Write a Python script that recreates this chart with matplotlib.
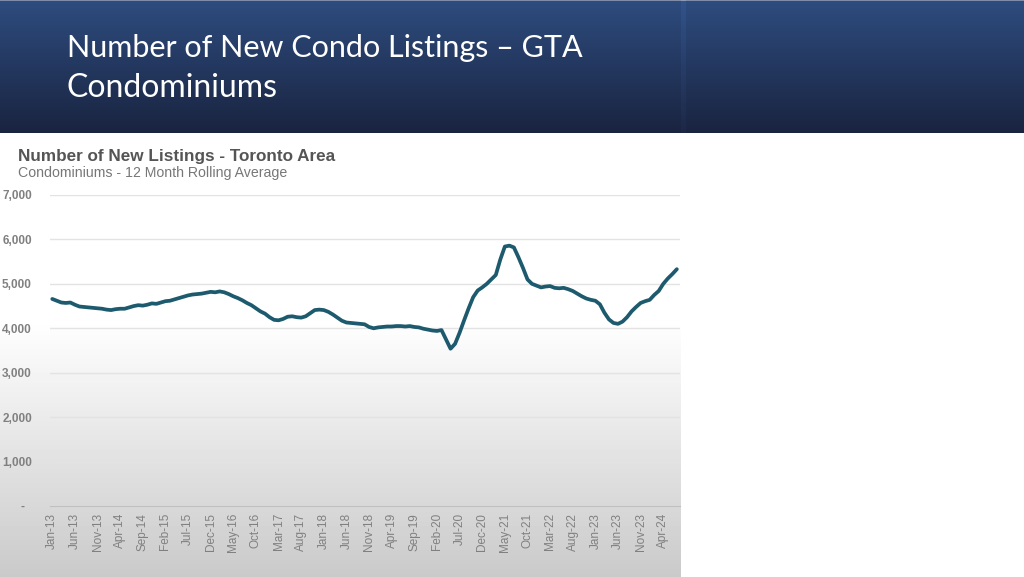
import matplotlib
matplotlib.use("Agg")
import matplotlib.pyplot as plt
import numpy as np
import pandas as pd

# 12 month rolling average of new condo listings, Jan-13 .. Jul-24
months = pd.date_range("2013-01-01", "2024-07-01", freq="MS")
new_listings = [
    4660, 4620, 4580, 4570, 4580, 4530, 4490, 4480, 4470, 4460, 4450, 4440,  # 2013
    4420, 4410, 4430, 4440, 4440, 4470, 4500, 4520, 4510, 4530, 4560, 4550,  # 2014
    4580, 4610, 4620, 4650, 4680, 4710, 4740, 4760, 4770, 4780, 4800, 4820,  # 2015
    4810, 4830, 4810, 4770, 4720, 4680, 4630, 4570, 4520, 4450, 4380, 4330,  # 2016
    4250, 4190, 4180, 4210, 4260, 4270, 4250, 4240, 4270, 4340, 4410, 4420,  # 2017
    4410, 4370, 4310, 4240, 4170, 4130, 4120, 4110, 4100, 4090, 4030, 4000,  # 2018
    4020, 4030, 4040, 4040, 4050, 4050, 4040, 4050, 4030, 4020, 3990, 3970,  # 2019
    3950, 3940, 3960, 3750, 3540, 3650, 3900, 4180, 4450, 4700, 4850, 4920,  # 2020
    5000, 5100, 5200, 5550, 5840, 5860, 5820, 5600, 5360, 5100, 5000, 4960,  # 2021
    4920, 4940, 4950, 4910, 4900, 4910, 4880, 4840, 4780, 4720, 4670, 4640,  # 2022
    4620, 4540, 4350, 4200, 4120, 4100, 4150, 4250, 4380, 4480, 4570, 4610,  # 2023
    4640, 4750, 4840, 5000, 5120, 5220, 5330,                                # 2024
]
tick_step = 5
tick_labels = [d.strftime("%b-%y") for d in months[::tick_step]]
y_ticks = [0, 1000, 2000, 3000, 4000, 5000, 6000, 7000]

W, H = 1024, 577
fig = plt.figure(figsize=(W / 100, H / 100), dpi=100)
fig.patch.set_facecolor("white")

# slide header band (dark blue gradient)
hdr = fig.add_axes([0, 1 - 133 / H, 1, 133 / H])
g = np.linspace(0, 1, 133)[:, None]
top = np.array([0.18, 0.30, 0.50])
bot = np.array([0.10, 0.14, 0.25])
grad = top + (bot - top) * g[..., None]
grad = np.repeat(grad, W, axis=1)
grad[:2] = [0.50, 0.55, 0.66]
grad[:, 681:686] = grad[:, 681:686] * 1.10
grad = np.clip(grad, 0, 1)
hdr.imshow(grad, aspect="auto", extent=[0, W, 133, 0])
hdr.set_xlim(0, W)
hdr.set_ylim(133, 0)
hdr.axis("off")
hdr.text(67, 48, "Number of New Condo Listings \u2013 GTA", color="white",
         fontsize=22, family="Lato", va="center", ha="left")
hdr.text(66, 88, "Condominiums", color="white", fontsize=23,
         family="Lato", va="center", ha="left")

# chart picture background: white fading to grey at the bottom
pnl = fig.add_axes([0, 0, 681 / W, 444 / H])
rows = np.arange(133, 577)
shade = np.where(rows < 320, 1.0, 1.0 - 0.21 * (rows - 320) / (577 - 320))
img = np.repeat(shade[:, None], 10, axis=1)
pnl.imshow(img, cmap="gray", vmin=0, vmax=1, aspect="auto",
           extent=[0, 681, 577, 133])
pnl.set_xlim(0, 681)
pnl.set_ylim(577, 133)
pnl.axis("off")
pnl.text(18, 156, "Number of New Listings - Toronto Area", color="#555555",
         fontsize=12.3, fontweight="bold", family="Liberation Sans", va="center")
pnl.text(18, 173, "Condominiums - 12 Month Rolling Average", color="#777777",
         fontsize=10.2, family="Liberation Sans", va="center")

# the line chart
ax = fig.add_axes([50 / W, (H - 506) / H, 630 / W, 311 / H])
ax.patch.set_alpha(0)
x = np.arange(len(new_listings))
ax.plot(x, new_listings, color="#1d5a6e", lw=2.7, solid_capstyle="round")
ax.set_xlim(-0.5, len(new_listings) - 0.3)
ax.set_ylim(0, 7000)
ax.set_yticks(y_ticks)
ax.set_yticklabels([f"{v:,}" if v else "-  " for v in y_ticks])
ax.set_xticks(x[::tick_step])
ax.set_xticklabels(tick_labels, rotation=90)
ax.grid(axis="y", color="#e3e3e3", lw=1)
ax.set_axisbelow(True)
for s in ["top", "right", "left"]:
    ax.spines[s].set_visible(False)
ax.spines["bottom"].set_color("#c0c0c0")
ax.tick_params(length=0)
ax.tick_params(axis="y", pad=13, labelsize=8.5, labelcolor="#808080")
ax.tick_params(axis="x", pad=5, labelsize=8.5, labelcolor="#808080")
for t in ax.get_yticklabels():
    t.set_family("Liberation Sans")
    t.set_fontweight("bold")
for t in ax.get_xticklabels():
    t.set_family("Liberation Sans")

fig.savefig("out.png", dpi=100)
